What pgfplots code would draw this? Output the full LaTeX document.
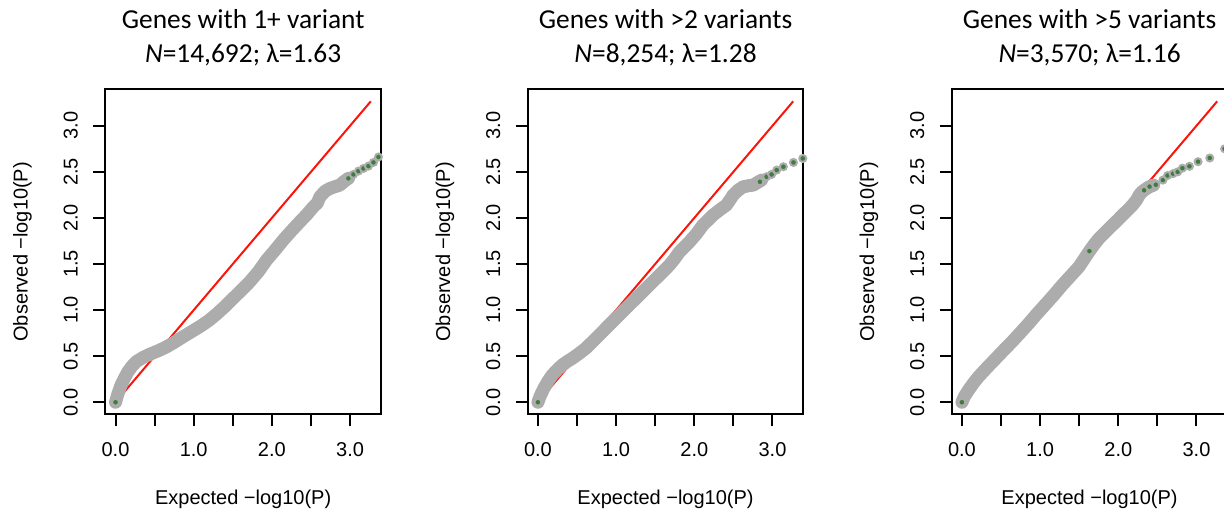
\documentclass[border=0pt]{standalone}
\usepackage{fontspec}
\setmainfont{Liberation Sans}
\newfontfamily\titlefont{Carlito}
\usepackage{pgfplots}
\pgfplotsset{compat=1.18}
\definecolor{ptgray}{RGB}{172,172,172}
\definecolor{ptgreen}{RGB}{62,125,62}
\definecolor{qqred}{RGB}{250,20,10}
\pgfplotsset{
  qq/.style={
    scale only axis, width=137.85bp, height=162.5bp,
    xmin=-0.1306, xmax=3.3956, ymin=-0.1306, ymax=3.3956,
    axis line style={line width=1bp},
    xtick={0,0.5,1,1.5,2,2.5,3},
    xticklabels={0.0,,1.0,,2.0,,3.0},
    ytick={0,0.5,1,1.5,2,2.5,3},
    yticklabels={0.0,0.5,1.0,1.5,2.0,2.5,3.0},
    tick align=outside, major tick length=6bp,
    tick pos=left,
    every tick/.style={black, line width=1bp},
    /pgf/number format/assume math mode=true,
    tick label style={font=\fontsize{10bp}{12bp}\selectfont, inner sep=0pt},
    yticklabel style={rotate=90, anchor=south},
    xticklabel style={anchor=north},
    xticklabel shift=8bp,
    yticklabel shift=7.5bp,
    every axis x label/.style={at={(axis description cs:0.5,0)}, anchor=north, yshift=-37.5bp, inner sep=0pt, font=\fontsize{10bp}{12bp}\selectfont},
    every axis y label/.style={at={(axis description cs:0,0.5)}, xshift=-41.4bp, rotate=90, anchor=center, inner sep=0pt, font=\fontsize{10bp}{12bp}\selectfont},
    xlabel={Expected −log10(P)},
    ylabel={Observed −log10(P)},
    title style={at={(axis description cs:0.5,1)}, anchor=south, yshift=5.5bp, align=center, inner sep=0pt, font=\fontsize{13.7bp}{17bp}\titlefont},
  },
  band/.style={ptgray, line width=6.5bp, line cap=round, line join=round},
  pts/.style={only marks, mark=*, mark size=1.75bp, mark options={fill=ptgreen, draw=ptgray, line width=1bp}},
  redline/.style={qqred, line width=1bp},
}
\begin{document}
\begin{tikzpicture}
% Panel 1
\begin{axis}[qq, at={(52.65bp,49.35bp)}, anchor=south west,
  title={Genes with 1+ variant\\\textit{N}=14,692; λ=1.63}]
\addplot[redline] coordinates {(0,0) (3.265,3.265)};
\addplot[band] table {
0 0
0.03 0.09
0.073 0.19
0.12 0.27
0.158 0.33
0.21 0.39
0.265 0.44
0.35 0.485
0.436 0.52
0.55 0.56
0.65 0.60
0.75 0.65
0.863 0.71
0.97 0.765
1.077 0.82
1.19 0.885
1.29 0.955
1.40 1.04
1.504 1.128
1.61 1.215
1.718 1.308
1.83 1.42
1.932 1.543
2.04 1.65
2.145 1.76
2.25 1.86
2.359 1.959
2.45 2.04
2.53 2.12
2.58 2.16
2.615 2.23
2.68 2.29
2.744 2.32
2.81 2.34
2.87 2.357
2.93 2.40
2.98 2.43
};
\addplot[pts] table {
0 0
2.979 2.429
3.043 2.472
3.107 2.508
3.171 2.537
3.235 2.562
3.299 2.602
3.363 2.661
3.43 2.70
};
\end{axis}
% Panel 2
\begin{axis}[qq, at={(263.85bp,49.35bp)}, anchor=south west,
  title={Genes with >2 variants\\\textit{N}=8,254; λ=1.28}]
\addplot[redline] coordinates {(0,0) (3.265,3.265)};
\addplot[band] table {
0 0
0.03 0.07
0.077 0.152
0.13 0.23
0.184 0.296
0.25 0.355
0.313 0.405
0.38 0.445
0.441 0.477
0.52 0.525
0.612 0.585
0.72 0.675
0.827 0.766
0.93 0.855
1.04 0.947
1.15 1.04
1.255 1.128
1.36 1.215
1.469 1.308
1.58 1.40
1.683 1.489
1.75 1.56
1.812 1.633
1.88 1.69
1.94 1.742
2.03 1.83
2.11 1.923
2.18 1.98
2.24 2.031
2.33 2.09
2.41 2.139
2.46 2.20
2.497 2.248
2.56 2.30
2.625 2.338
2.70 2.35
2.754 2.356
2.80 2.38
2.86 2.41
};
\addplot[pts] table {
0 0
2.839 2.392
2.925 2.447
2.989 2.472
3.054 2.519
3.139 2.555
3.268 2.602
3.388 2.645
};
\end{axis}
% Panel 3
\begin{axis}[qq, at={(475.85bp,49.35bp)}, anchor=south west,
  title={Genes with >5 variants\\\textit{N}=3,570; λ=1.16}]
\addplot[redline] coordinates {(0,0) (3.265,3.265)};
\addplot[band] table {
0 0
0.03 0.06
0.086 0.134
0.15 0.21
0.214 0.278
0.32 0.375
0.428 0.47
0.535 0.565
0.642 0.658
0.75 0.757
0.856 0.857
0.96 0.96
1.07 1.063
1.18 1.168
1.284 1.272
1.39 1.37
1.498 1.471
1.56 1.55
1.626 1.634
1.69 1.71
1.754 1.778
1.84 1.85
1.926 1.923
1.99 1.975
2.054 2.031
2.12 2.085
2.182 2.139
2.23 2.19
2.268 2.248
2.30 2.28
2.332 2.302
2.396 2.338
2.45 2.355
};
\addplot[pts] table {
0 0
1.63 1.64
2.33 2.30
2.40 2.34
2.48 2.36
2.57 2.41
2.63 2.46
2.70 2.48
2.76 2.50
2.82 2.54
2.91 2.56
3.02 2.61
3.17 2.65
3.36 2.75
};
\end{axis}
\pgfresetboundingbox
\path[use as bounding box] (0,0) rectangle (612bp,256.5bp);
\end{tikzpicture}
\end{document}
